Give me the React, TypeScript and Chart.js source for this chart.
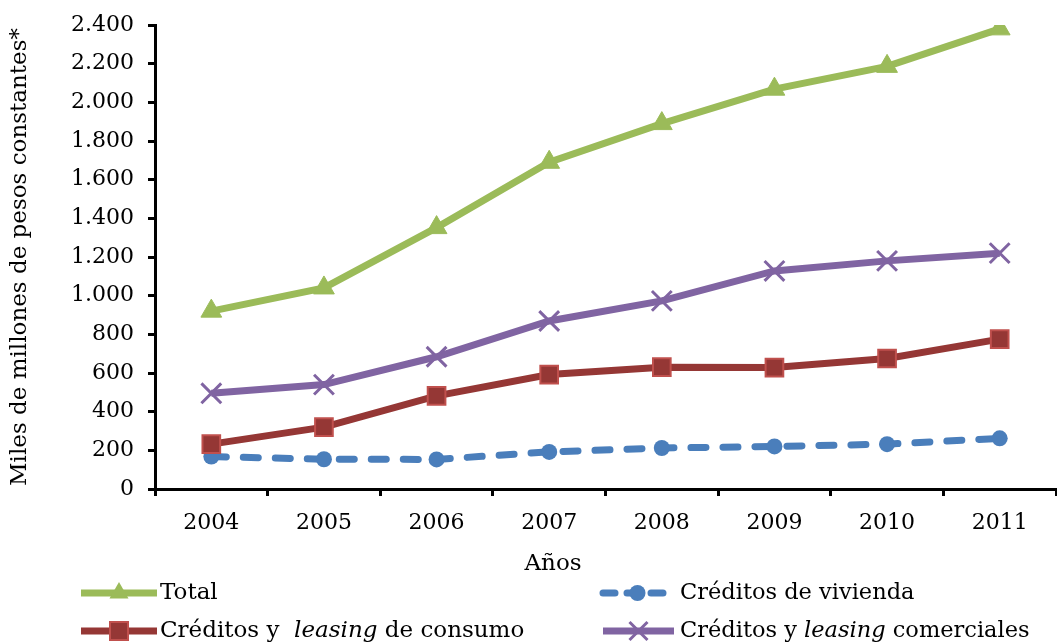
import React, { useEffect, useRef } from "react";
import { Chart, registerables } from "chart.js";

Chart.register(...registerables);

const years = ["2004", "2005", "2006", "2007", "2008", "2009", "2010", "2011"];
const total = [920, 1040, 1352, 1690, 1890, 2068, 2186, 2380];
const vivienda = [168, 154, 153, 192, 212, 220, 232, 262];
const consumo = [232, 320, 482, 592, 630, 628, 675, 775];
const comerciales = [495, 540, 684, 869, 973, 1128, 1180, 1220];

const yTicksMax = 2400;
const yStep = 200;

const xTitle = "Años";
const yTitle = "Miles de millones de pesos constantes*";

const FONT = "'DejaVu Serif', serif";

const GREEN = "#9bbb59";
const BLUE = "#4a7ebb";
const RED_LINE = "#953735";
const RED_BORDER = "#c0504d";
const PURPLE = "#8064a2";

function fmt(v: number): string {
  const s = String(Math.round(v));
  return s.replace(/\B(?=(\d{3})+(?!\d))/g, ".");
}

type LegendItem = {
  parts: { text: string; italic?: boolean }[];
  color: string;
  dash?: number[];
  marker: "triangle" | "circle" | "rect" | "crossRot";
  markerFill: string;
  markerStroke: string;
  x0: number;
  x1: number;
  tx: number;
  y: number;
  size: number;
};

const legendItems: LegendItem[] = [
  { parts: [{ text: "Total" }], color: GREEN, marker: "triangle", markerFill: GREEN, markerStroke: GREEN, x0: 81, x1: 157, tx: 160, y: 593, size: 23 },
  { parts: [{ text: "Créditos de vivienda" }], color: BLUE, dash: [12, 12], marker: "circle", markerFill: BLUE, markerStroke: BLUE, x0: 603, x1: 672, tx: 680, y: 593, size: 22.5 },
  { parts: [{ text: "Créditos y  " }, { text: "leasing", italic: true }, { text: " de consumo" }], color: RED_LINE, marker: "rect", markerFill: RED_LINE, markerStroke: RED_BORDER, x0: 81, x1: 157, tx: 160, y: 631, size: 23 },
  { parts: [{ text: "Créditos y " }, { text: "leasing", italic: true }, { text: " comerciales" }], color: PURPLE, marker: "crossRot", markerFill: PURPLE, markerStroke: PURPLE, x0: 603, x1: 674, tx: 680, y: 631, size: 22.5 },
];

function drawMarker(ctx: CanvasRenderingContext2D, kind: string, x: number, y: number, fill: string, stroke: string) {
  ctx.save();
  ctx.fillStyle = fill;
  ctx.strokeStyle = stroke;
  ctx.setLineDash([]);
  if (kind === "triangle") {
    const r = 11;
    ctx.beginPath();
    ctx.moveTo(x, y - r);
    ctx.lineTo(x + r * 0.866, y + r * 0.5);
    ctx.lineTo(x - r * 0.866, y + r * 0.5);
    ctx.closePath();
    ctx.fill();
  } else if (kind === "circle") {
    ctx.beginPath();
    ctx.arc(x, y, 8, 0, Math.PI * 2);
    ctx.fill();
  } else if (kind === "rect") {
    const s = 9;
    ctx.lineWidth = 2;
    ctx.fillRect(x - s, y - s, 2 * s, 2 * s);
    ctx.strokeRect(x - s, y - s, 2 * s, 2 * s);
  } else {
    const s = 9;
    ctx.lineWidth = 3;
    ctx.beginPath();
    ctx.moveTo(x - s, y - s);
    ctx.lineTo(x + s, y + s);
    ctx.moveTo(x + s, y - s);
    ctx.lineTo(x - s, y + s);
    ctx.stroke();
  }
  ctx.restore();
}

const legendPlugin = {
  id: "customLegend",
  afterDraw(chart: any) {
    const ctx: CanvasRenderingContext2D = chart.ctx;
    ctx.save();
    // x-axis title, placed as in the reference (slightly left of the plot centre)
    ctx.fillStyle = "#000";
    ctx.font = `23px ${FONT}`;
    ctx.textAlign = "center";
    ctx.textBaseline = "middle";
    ctx.fillText(xTitle, 553, 564);

    for (const it of legendItems) {
      ctx.strokeStyle = it.color;
      ctx.lineWidth = 7;
      ctx.lineCap = it.dash ? "round" : "butt";
      ctx.setLineDash(it.dash ? it.dash : []);
      ctx.beginPath();
      ctx.moveTo(it.x0, it.y);
      ctx.lineTo(it.x1, it.y);
      ctx.stroke();
      ctx.setLineDash([]);
      drawMarker(ctx, it.marker, (it.x0 + it.x1) / 2, it.y, it.markerFill, it.markerStroke);
      let x = it.tx;
      ctx.fillStyle = "#000";
      ctx.textBaseline = "middle";
      ctx.textAlign = "left";
      for (const p of it.parts) {
        ctx.font = `${p.italic ? "italic " : ""}${it.size}px ${FONT}`;
        ctx.fillText(p.text, x, it.y);
        x += ctx.measureText(p.text).width;
      }
    }
    ctx.restore();
  },
};

export default function App() {
  const ref = useRef<HTMLCanvasElement | null>(null);
  useEffect(() => {
    if (!ref.current) return;
    const chart = new Chart(ref.current, {
      type: "line",
      data: {
        labels: years,
        datasets: [
          {
            label: "Total",
            data: total,
            borderColor: GREEN,
            backgroundColor: GREEN,
            borderWidth: 7,
            pointStyle: "triangle",
            pointRadius: 12,
            pointBackgroundColor: GREEN,
            pointBorderColor: GREEN,
            pointBorderWidth: 1,
            tension: 0,
          },
          {
            label: "Créditos y leasing comerciales",
            data: comerciales,
            borderColor: PURPLE,
            backgroundColor: PURPLE,
            borderWidth: 7,
            pointStyle: "crossRot",
            pointRadius: 14,
            pointBorderColor: PURPLE,
            pointBorderWidth: 3,
            tension: 0,
          },
          {
            label: "Créditos y leasing de consumo",
            data: consumo,
            borderColor: RED_LINE,
            backgroundColor: RED_LINE,
            borderWidth: 7,
            pointStyle: "rect",
            pointRadius: 12.5,
            pointBackgroundColor: RED_LINE,
            pointBorderColor: RED_BORDER,
            pointBorderWidth: 2,
            tension: 0,
          },
          {
            label: "Créditos de vivienda",
            data: vivienda,
            borderColor: BLUE,
            backgroundColor: BLUE,
            borderWidth: 7,
            borderDash: [15, 17],
            borderCapStyle: "round",
            pointStyle: "circle",
            pointRadius: 8,
            pointBackgroundColor: BLUE,
            pointBorderColor: BLUE,
            pointBorderWidth: 0,
            tension: 0,
          },
        ],
      },
      options: {
        animation: false,
        responsive: false,
        maintainAspectRatio: false,
        layout: { autoPadding: false, padding: { top: 25, right: 1, bottom: 65, left: 0 } },
        plugins: {
          legend: { display: false },
          tooltip: { enabled: false },
        },
        scales: {
          x: {
            offset: true,
            grid: {
              offset: true,
              drawOnChartArea: false,
              drawTicks: true,
              tickLength: 7,
              tickWidth: 3,
              tickColor: "#000",
            },
            border: { display: true, color: "#000", width: 3 },
            ticks: {
              color: "#000",
              font: { family: FONT, size: 22 },
              padding: 14,
              maxRotation: 0,
            },
            title: { display: false },
            afterFit: (scale: any) => {
              scale.height = 89;
              scale.paddingLeft = 0;
              scale.paddingRight = 0;
            },
          },
          y: {
            min: 0,
            max: yTicksMax,
            grid: {
              drawOnChartArea: false,
              drawTicks: true,
              tickLength: 7,
              tickWidth: 3,
              tickColor: "#000",
            },
            border: { display: true, color: "#000", width: 3 },
            ticks: {
              stepSize: yStep,
              color: "#000",
              font: { family: FONT, size: 22 },
              padding: 14,
              callback: (v: any) => fmt(Number(v)),
            },
            title: {
              display: true,
              text: yTitle,
              color: "#000",
              font: { family: FONT, size: 23 },
              padding: { top: 6, bottom: 0 },
            },
            afterFit: (scale: any) => {
              scale.width = 155;
              scale.paddingTop = 0;
              scale.paddingBottom = 0;
            },
          },
        },
      },
      plugins: [legendPlugin],
    } as any);
    return () => chart.destroy();
  }, []);
  return (
    <div style={{ position: "fixed", left: 0, top: 0, width: 1057, height: 643, background: "#fff", overflow: "hidden" }}>
      <canvas ref={ref} width={1057} height={643} style={{ display: "block", width: 1057, height: 643 }} />
    </div>
  );
}
